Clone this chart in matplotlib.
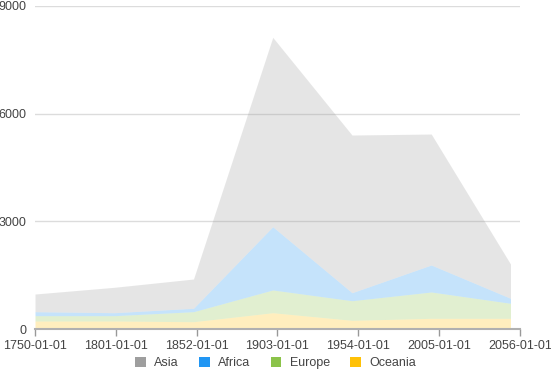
import matplotlib
matplotlib.use("Agg")
import matplotlib.pyplot as plt
import matplotlib.dates as mdates
from matplotlib.patches import Patch
import numpy as np
import datetime as dt

plt.rcParams['font.family'] = ['Liberation Sans', 'DejaVu Sans']

years = [1750, 1800, 1850, 1900, 1950, 2000, 2050]
oceania = [223, 223, 203, 454, 242, 298, 298]
europe = [148, 148, 279, 633, 546, 733, 418]
africa = [111, 83, 95, 1763, 223, 752, 139]
asia = [493, 708, 816, 5277, 4394, 3650, 956]

series_names = ["Asia", "Africa", "Europe", "Oceania"]
colors = {"Asia": "#9e9e9e", "Africa": "#2196f3", "Europe": "#8bc34a", "Oceania": "#ffc107"}

tick_years = [1750, 1801, 1852, 1903, 1954, 2005, 2056]
y_ticks = [0, 3000, 6000, 9000]

dates = [dt.datetime(y, 1, 1) for y in years]
tick_dates = [dt.datetime(y, 1, 1) for y in tick_years]

fig = plt.figure(figsize=(5.51, 3.77), dpi=100)
ax = fig.add_axes([35/551, 1-329/377, (520-35)/551, (329-6)/377])

x = mdates.date2num(dates)
stack_order = [("Oceania", oceania), ("Europe", europe), ("Africa", africa), ("Asia", asia)]
base = np.zeros(len(years))
for name, vals in stack_order:
    top = base + np.array(vals, dtype=float)
    ax.fill_between(x, base, top, color=colors[name], alpha=0.26, linewidth=0)
    base = top

ax.set_xlim(mdates.date2num(tick_dates[0]), mdates.date2num(tick_dates[-1]))
ax.set_ylim(0, 9000)
ax.set_xticks(mdates.date2num(tick_dates))
ax.set_xticklabels([d.strftime("%Y-%m-%d") for d in tick_dates])
ax.set_yticks(y_ticks)
ax.set_yticklabels([str(v) for v in y_ticks])
ax.grid(axis='y', color='#dcdcdc', linewidth=1)
ax.set_axisbelow(True)
for s in ['top', 'right', 'left']:
    ax.spines[s].set_visible(False)
ax.spines['bottom'].set_color('#b0b0b0')
ax.spines['bottom'].set_linewidth(1.5)
ax.tick_params(axis='x', colors='#999999', labelcolor='#444444', labelsize=9, length=5, width=1, pad=3)
ax.tick_params(axis='y', length=0, labelcolor='#444444', labelsize=9, pad=6)

handles = [Patch(facecolor=colors[n], edgecolor='none', label=n) for n in series_names]
leg = fig.legend(handles=handles, loc='center', bbox_to_anchor=(0.5, 1-363/377), ncol=4,
                 frameon=False, fontsize=9, handlelength=0.85, handleheight=0.85,
                 handletextpad=0.7, columnspacing=1.6, labelcolor='#444444')

fig.savefig("out.png", dpi=100)
